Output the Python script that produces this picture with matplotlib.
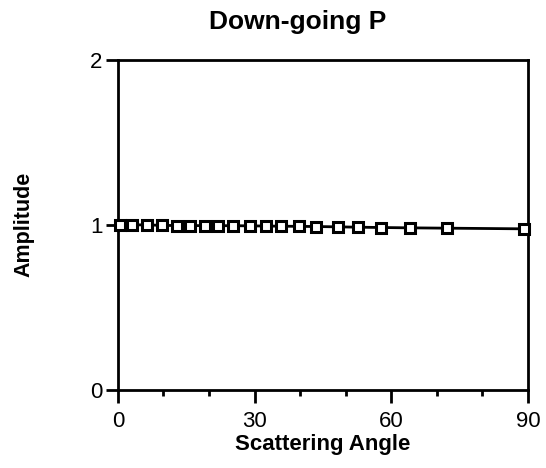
import matplotlib
matplotlib.use("Agg")
import matplotlib.pyplot as plt
from matplotlib.ticker import MultipleLocator

angle = [0.4, 3, 6.3, 9.6, 12.9, 15.8, 19.1, 21.9, 25.2, 29, 32.4, 35.9,
         39.7, 43.5, 48.3, 52.7, 57.8, 64.1, 72.2, 89.1]
amplitude = [1.0, 1.0, 1.0, 0.997, 0.996, 0.996, 0.995, 0.995, 0.995, 0.994,
             0.993, 0.992, 0.991, 0.99, 0.988, 0.986, 0.984, 0.982, 0.98, 0.976]

plt.rcParams['font.family'] = ['Liberation Sans', 'DejaVu Sans']

fig = plt.figure(figsize=(5.46, 4.68), dpi=100)
ax = fig.add_axes([0.216, 0.167, 0.751, 0.705])

ax.plot(angle, amplitude, color="black", linewidth=2, marker="s",
        markersize=6.5, markerfacecolor="white", markeredgecolor="black",
        markeredgewidth=2.2, clip_on=False, zorder=3)

ax.set_xlim(0, 90)
ax.set_ylim(0, 2)
ax.set_xticks([0, 30, 60, 90])
ax.set_yticks([0, 1, 2])
ax.xaxis.set_minor_locator(MultipleLocator(10))

for s in ax.spines.values():
    s.set_linewidth(2)
ax.tick_params(which="major", direction="out", length=9, width=2,
               labelsize=16)
ax.tick_params(axis="x", which="major", pad=6)
ax.tick_params(axis="y", which="major", pad=2)
ax.tick_params(which="minor", direction="out", length=4.5, width=2)

fig.text(0.546, 0.953, "Down-going P", fontsize=19, fontweight="bold",
         ha="center", va="center")
ax.set_xlabel("Scattering Angle", fontsize=16, fontweight="bold", labelpad=2)
ax.set_ylabel("Amplitude", fontsize=15.5, fontweight="bold", labelpad=40)

fig.savefig("out.png", dpi=100)
